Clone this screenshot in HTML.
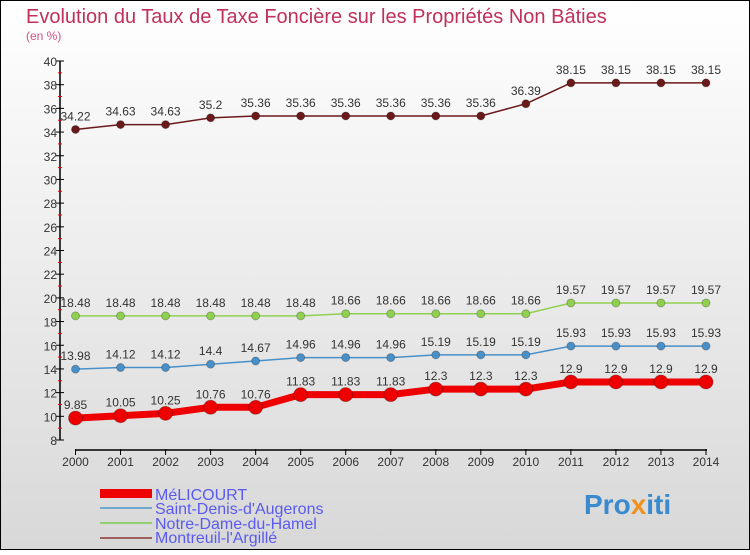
<!DOCTYPE html>
<html><head><meta charset="utf-8"><style>
body{margin:0;}
#c{width:750px;height:550px;}
text{font-family:"Liberation Sans",sans-serif;}
</style></head><body>
<svg id="c" width="750" height="550" xmlns="http://www.w3.org/2000/svg">
<defs><linearGradient id="bg" x1="0" y1="0" x2="0" y2="1"><stop offset="0" stop-color="#ffffff"/><stop offset="1" stop-color="#d8d8d8"/></linearGradient></defs>
<rect x="0.5" y="0.5" width="749" height="549" fill="url(#bg)" stroke="#000"/>
<text x="26" y="23" font-size="20" fill="#c0305a">Evolution du Taux de Taxe Foncière sur les Propriétés Non Bâties</text>
<text x="26" y="40" font-size="12" fill="#d05080">(en %)</text>
<g id="axes"></g>
<g id="series"></g>
<g>
<rect x="100" y="489" width="52" height="9" fill="#ee0000"/>
<text x="155" y="500" font-size="16" fill="#5a5af0">MéLICOURT</text>
<rect x="100" y="507" width="52" height="2" fill="#70a8d0"/>
<text x="155" y="514" font-size="16" fill="#5a5af0">Saint-Denis-d'Augerons</text>
<rect x="100" y="522" width="52" height="2" fill="#90d070"/>
<text x="155" y="529" font-size="16" fill="#5a5af0">Notre-Dame-du-Hamel</text>
<rect x="100" y="537" width="52" height="2" fill="#a06060"/>
<text x="155" y="543" font-size="16" fill="#5a5af0">Montreuil-l'Argillé</text>
</g>
<g>
<text x="584" y="514" font-size="28" font-weight="bold" fill="#3a8ad0">Pro<tspan fill="#f09020">x</tspan>iti</text>
</g>
</svg>
<script>
const years=[2000,2001,2002,2003,2004,2005,2006,2007,2008,2009,2010,2011,2012,2013,2014];
const yTicks=[8,10,12,14,16,18,20,22,24,26,28,30,32,34,36,38,40];
const melicourt=[9.85,10.05,10.25,10.76,10.76,11.83,11.83,11.83,12.3,12.3,12.3,12.9,12.9,12.9,12.9];
const saintDenis=[13.98,14.12,14.12,14.4,14.67,14.96,14.96,14.96,15.19,15.19,15.19,15.93,15.93,15.93,15.93];
const notreDame=[18.48,18.48,18.48,18.48,18.48,18.48,18.66,18.66,18.66,18.66,18.66,19.57,19.57,19.57,19.57];
const montreuil=[34.22,34.63,34.63,35.2,35.36,35.36,35.36,35.36,35.36,35.36,36.39,38.15,38.15,38.15,38.15];
const NS="http://www.w3.org/2000/svg";
const x=i=>75.5+i*(706-75.5)/(years.length-1);
const y=v=>440-(v-8)*(440-61)/32;
function mk(t,a,p){const e=document.createElementNS(NS,t);for(const k in a)e.setAttribute(k,a[k]);p.appendChild(e);return e;}
const ax=document.getElementById('axes');
mk('line',{x1:60,y1:y(40),x2:60,y2:y(8),stroke:'#000','stroke-width':1.5},ax);
yTicks.forEach(v=>{
 const l=mk('line',{x1:56,y1:y(v),x2:64,y2:y(v),stroke:'#000'},ax);
 
 
 const t=mk('text',{x:57,y:y(v)+5,'font-size':12,'text-anchor':'end',fill:'#333'},ax);
 t.textContent=v;
 
 
 if(v<40){const m=mk('line',{x1:58,y1:y(v+1),x2:62,y2:y(v+1),stroke:'#e00'},ax);
 
 }
});
mk('line',{x1:75,y1:450,x2:707,y2:450,stroke:'#000','stroke-width':1.5},ax);
years.forEach((yr,i)=>{
 mk('line',{x1:x(i),y1:449,x2:x(i),y2:455,stroke:'#000'},ax);
 const t=mk('text',{x:x(i),y:466,'font-size':12,'text-anchor':'middle',fill:'#333'},ax);
 t.textContent=yr;
 
 
});
const sg=document.getElementById('series');
function series(vals,color,w,r,name){
 const g=mk('g',{},sg);
 
 
 mk('polyline',{points:vals.map((v,i)=>x(i)+','+y(v)).join(' '),fill:'none',stroke:color,'stroke-width':w},g);
 vals.forEach((v,i)=>{
  const c=mk('circle',{cx:x(i),cy:y(v),r:r,fill:color,stroke:'rgba(0,0,0,0.25)'},g);
  
  
  const t=mk('text',{x:x(i),y:y(v)-9,'font-size':12,'text-anchor':'middle',fill:'#333'},g);
  t.textContent=v;
  
  
 });
}
series(montreuil,'#6a1a1a',1.5,4,'montreuil');
series(notreDame,'#90d050',1.5,4,'notre-dame');
series(saintDenis,'#4a90c8',1.5,4,'saint-denis');
series(melicourt,'#ee0000',7,7,'melicourt');
</script>
</body></html>
